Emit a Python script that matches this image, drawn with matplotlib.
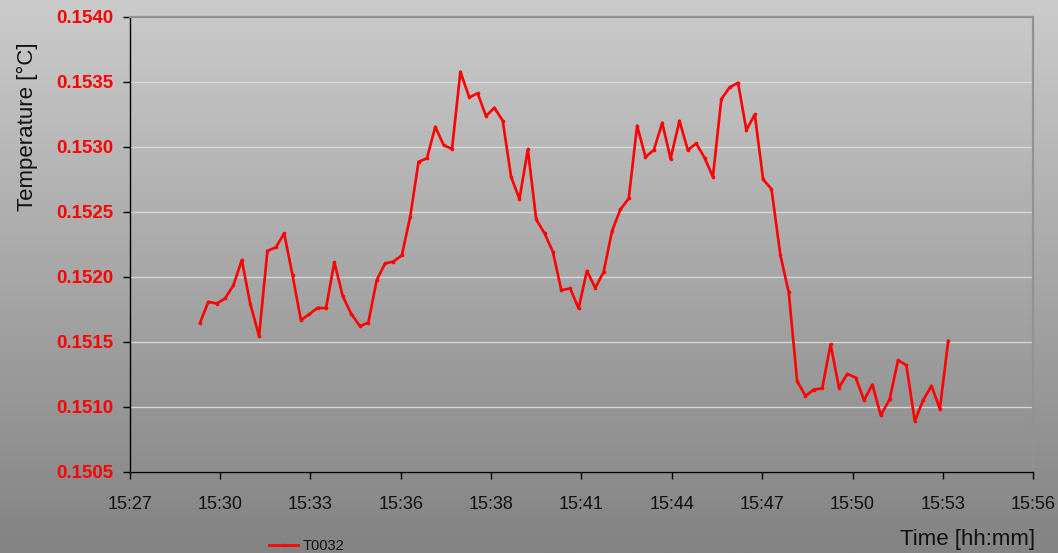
import numpy as np
import matplotlib
matplotlib.use("Agg")
import matplotlib.pyplot as plt
from matplotlib.ticker import FuncFormatter, MultipleLocator

# sample times (hh:mm:ss) and readings of T0032
times = [
    "15:29:36", "15:29:52", "15:30:08", "15:30:24", "15:30:40", "15:30:56",
    "15:31:12", "15:31:29", "15:31:45", "15:32:01", "15:32:17", "15:32:33",
    "15:32:49", "15:33:05", "15:33:21", "15:33:37", "15:33:53", "15:34:09",
    "15:34:25", "15:34:42", "15:34:58", "15:35:14", "15:35:30", "15:35:46",
    "15:36:02", "15:36:18", "15:36:34", "15:36:50", "15:37:06", "15:37:22",
    "15:37:38", "15:37:54", "15:38:11", "15:38:27", "15:38:43", "15:38:59",
    "15:39:15", "15:39:31", "15:39:47", "15:40:03", "15:40:19", "15:40:35",
    "15:40:51", "15:41:07", "15:41:24", "15:41:40", "15:41:56", "15:42:12",
    "15:42:28", "15:42:44", "15:43:00", "15:43:16", "15:43:32", "15:43:48",
    "15:44:04", "15:44:20", "15:44:36", "15:44:53", "15:45:09", "15:45:25",
    "15:45:41", "15:45:57", "15:46:13", "15:46:29", "15:46:45", "15:47:01",
    "15:47:17", "15:47:33", "15:47:49", "15:48:06", "15:48:22", "15:48:38",
    "15:48:54", "15:49:10", "15:49:26", "15:49:42", "15:49:58", "15:50:14",
    "15:50:30", "15:50:46", "15:51:02", "15:51:18", "15:51:35", "15:51:51",
    "15:52:07", "15:52:23", "15:52:39", "15:52:55", "15:53:11", "15:53:27",
]
t0032 = [
    0.151646, 0.151808, 0.151795, 0.151834, 0.151936, 0.152129,
    0.151795, 0.151546, 0.152200, 0.152226, 0.152334, 0.152013,
    0.151667, 0.151713, 0.151762, 0.151759, 0.152113, 0.151852,
    0.151718, 0.151621, 0.151649, 0.151975, 0.152103, 0.152118,
    0.152165, 0.152462, 0.152885, 0.152911, 0.153154, 0.153013,
    0.152982, 0.153577, 0.153380, 0.153411, 0.153236, 0.153300,
    0.153200, 0.152769, 0.152598, 0.152980, 0.152442, 0.152334,
    0.152192, 0.151898, 0.151911, 0.151757, 0.152046, 0.151915,
    0.152038, 0.152352, 0.152518, 0.152603, 0.153162, 0.152921,
    0.152975, 0.153185, 0.152908, 0.153200, 0.152975, 0.153026,
    0.152915, 0.152769, 0.153365, 0.153457, 0.153492, 0.153128,
    0.153249, 0.152749, 0.152675, 0.152167, 0.151880, 0.151200,
    0.151085, 0.151134, 0.151142, 0.151482, 0.151149, 0.151254,
    0.151226, 0.151052, 0.151172, 0.150936, 0.151059, 0.151359,
    0.151321, 0.150892, 0.151052, 0.151162, 0.150985, 0.151508,
]


def day_fraction(s):
    h, m, sec = [int(p) for p in s.split(":")]
    return (h * 3600 + m * 60 + sec) / 86400.0


x = [day_fraction(s) for s in times]

plt.rcParams['font.family'] = ['Liberation Sans', 'DejaVu Sans']

fig = plt.figure(figsize=(10.58, 5.53), dpi=100)

# grey gradient background over the whole chart
bg = fig.add_axes([0, 0, 1, 1], zorder=0)
grad = np.linspace(0, 1, 256).reshape(-1, 1)
bg.imshow(grad, aspect='auto', cmap=matplotlib.colors.LinearSegmentedColormap.from_list(
    'g', ['#cbcbcb', '#838383']), extent=[0, 1, 0, 1], origin='upper')
bg.axis('off')

ax = fig.add_axes([0.1226, 0.1465, 0.8540, 0.8233], zorder=1)
ax.patch.set_alpha(0)

ax.plot(x, t0032, color='#ff0000', lw=1.9, marker='o', ms=1.6, label='T0032', zorder=3)

ax.set_xlim(0.644, 0.664)
ax.set_ylim(0.1505, 0.1540)
ax.xaxis.set_major_locator(MultipleLocator(0.002))
ax.yaxis.set_major_locator(MultipleLocator(0.0005))


def hhmm(v, pos):
    mins = int(np.floor(v * 1440 + 1e-6))
    return "%d:%02d" % (mins // 60, mins % 60)


ax.xaxis.set_major_formatter(FuncFormatter(hhmm))
ax.yaxis.set_major_formatter(FuncFormatter(lambda v, p: "%.4f" % v))

ax.grid(axis='y', color='#d6d6d6', lw=1.0, zorder=1)
ax.set_axisbelow(True)

for side in ['top', 'right']:
    ax.spines[side].set_color('#929292')
    ax.spines[side].set_linewidth(1.6)
for side in ['left', 'bottom']:
    ax.spines[side].set_color('black')
    ax.spines[side].set_linewidth(1.0)

ax.tick_params(axis='x', direction='out', length=5, width=1, pad=12,
               labelsize=13, labelcolor='#111111')
ax.tick_params(axis='y', direction='out', length=5, width=1, pad=7,
               labelsize=13.5, labelcolor='#ff0000')
for lab in ax.get_yticklabels():
    lab.set_fontweight('bold')

ax.set_ylabel('Temperature [°C]', fontsize=16, color='#111111')
ax.yaxis.set_label_coords(-0.101, 0.758)
ax.set_xlabel('Time [hh:mm]', fontsize=16, color='#111111', ha='right', va='center')
ax.xaxis.set_label_coords(1.002, -0.149)

fig.legend(loc='center left', bbox_to_anchor=(262 / 1058, 1 - 546 / 553),
           frameon=False, fontsize=10.5, handlelength=2.0, handletextpad=0.3,
           borderpad=0, labelcolor='#111111')

fig.savefig('out.png', dpi=100)
